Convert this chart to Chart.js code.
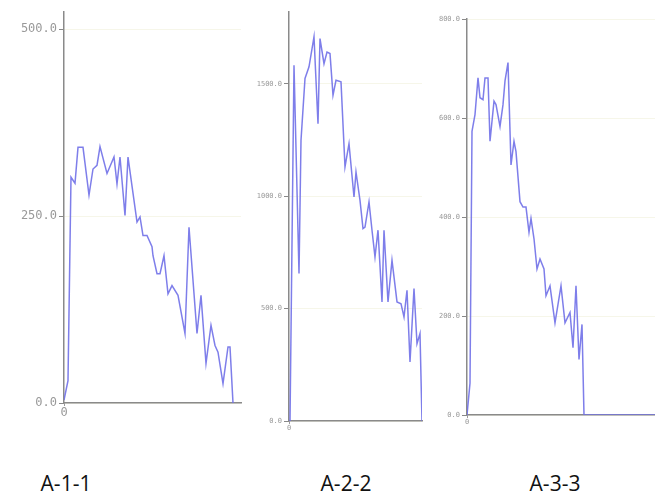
<!DOCTYPE html>
<html>
<head>
<meta charset="utf-8">
<script src="https://cdn.jsdelivr.net/npm/chart.js@4"></script>
<style>
  body { margin: 0; background: #fff; width: 655px; height: 497px; position: relative; overflow: hidden; }
  canvas { position: absolute; }
  .cap { position: absolute; top: 469px; width: 120px; text-align: center;
         font-family: "Open Sans", sans-serif; font-size: 21px; line-height: 28px; color: #111; }
</style>
</head>
<body>
<canvas id="c1" width="250" height="425" style="left:0;top:0"></canvas>
<canvas id="c2" width="184" height="440" style="left:240px;top:0"></canvas>
<canvas id="c3" width="230" height="435" style="left:425px;top:0"></canvas>
<div class="cap" style="left:6px">A-1-1</div>
<div class="cap" style="left:286px">A-2-2</div>
<div class="cap" style="left:495px">A-3-3</div>
<script>
// values (x = offset along the axis, y = value)
const xs1 = [0,4,7,11,14,19,25,29,33,36,43,50,53,56,61,64,73,76,79,83,88,89,93,96,100,104,108,114,121,125,133,137,142,147,151,154,159,164,166,169];
const ys1 = [4,30,302,294,342,342,278,313,318,343,307,329,293,329,251,329,242,249,224,224,209,197,173,173,197,146,157,144,93,235,93,144,53,104,77,68,26,75,75,0];
const yTicks1 = [0, 250, 500];

const xs2 = [1,5,10,12,16,20,25,29,31,35,38,41,44,47,52,56,60,65,67,71,74,76,80,83,86,89,93,95,99,103,108,112,115,118,121,125,128,131,133];
const ys2 = [0,1583,656,1249,1524,1576,1709,1323,1702,1590,1642,1635,1450,1516,1509,1131,1234,997,1108,982,856,863,975,849,730,849,530,849,530,715,530,522,463,582,263,589,344,389,0];
const yTicks2 = [0, 500, 1000, 1500];

const xs3 = [0,3,5,8,11,13,16,18,21,23,27,29,33,36,38,41,44,47,49,53,56,59,62,64,67,70,73,77,79,83,88,94,98,103,106,109,112,115,117,188];
const ys3 = [0,64,573,607,681,641,637,681,681,553,634,627,583,627,675,712,505,553,532,431,420,420,369,397,356,295,315,295,241,261,186,261,186,207,136,261,112,183,0,0];
const yTicks3 = [0, 200, 400, 600, 800];

const xTicks = [0];

function makeChart(id, xs, ys, yTicks, opts) {
  const points = xs.map((x, i) => ({ x: x, y: ys[i] }));
  return new Chart(document.getElementById(id), {
    type: "line",
    data: {
      datasets: [{
        data: points,
        borderColor: "rgba(112,112,232,0.9)",
        borderWidth: 1.5,
        pointRadius: 0,
        tension: 0,
        fill: false,
      }],
    },
    options: {
      responsive: false,
      animation: false,
      devicePixelRatio: 1,
      plugins: { legend: { display: false }, tooltip: { enabled: false } },
      layout: { padding: { top: opts.top, right: opts.right, left: 0, bottom: 0 } },
      scales: {
        x: {
          type: "linear",
          min: 0,
          max: opts.xMax,
          afterBuildTicks: (s) => { s.ticks = xTicks.map((v) => ({ value: v })); },
          afterFit: (s) => { s.height = opts.xh; },
          grid: { drawOnChartArea: false, tickLength: 3, tickColor: "#999" },
          border: { color: "#8a8a8a", width: 1.5 },
          ticks: { font: { family: "DejaVu Sans Mono", size: opts.fs }, color: "#999", padding: 0, maxRotation: 0 },
        },
        y: {
          min: 0,
          max: opts.yMax,
          afterBuildTicks: (s) => { s.ticks = yTicks.map((v) => ({ value: v })); },
          afterFit: (s) => { s.width = opts.yw; },
          grid: { color: "rgba(238,238,212,0.5)", tickLength: 5, tickColor: "#888" },
          border: { color: "#8a8a8a", width: 1.5 },
          ticks: {
            font: { family: "DejaVu Sans Mono", size: opts.fs },
            color: "#999",
            padding: 2,
            callback: (v) => Number(v).toFixed(1),
          },
        },
      },
    },
  });
}

makeChart("c1", xs1, ys1, yTicks1, { top: 12, right: 9, xMax: 177, yMax: 523, yw: 64, xh: 22, fs: 12 });
makeChart("c2", xs2, ys2, yTicks2, { top: 12, right: 2, xMax: 133, yMax: 1820, yw: 49, xh: 19, fs: 7 });
makeChart("c3", xs3, ys3, yTicks3, { top: 19, right: 0, xMax: 188, yMax: 800, yw: 42, xh: 20, fs: 7 });
</script>
</body>
</html>
